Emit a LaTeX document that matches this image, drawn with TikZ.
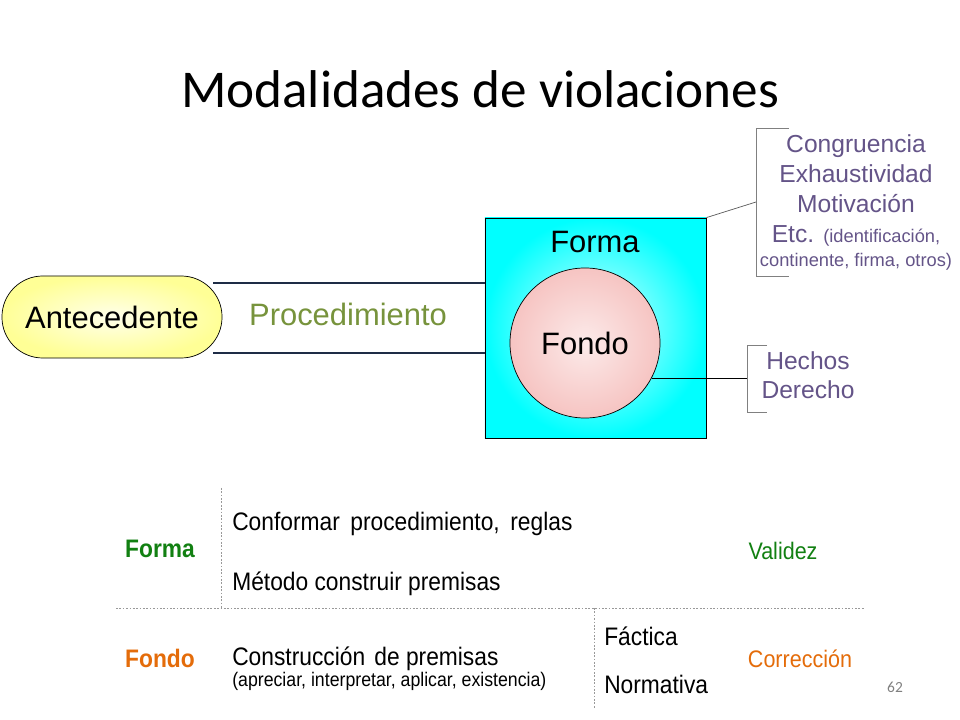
\documentclass[tikz,border=0pt]{standalone}
\usepackage{fontspec}
\setmainfont{Liberation Sans}
\newfontfamily\titlefont{Carlito}
\newfontfamily\narrowfont[FakeStretch=0.9]{Liberation Sans}
\usetikzlibrary{positioning}
\definecolor{procgreen}{RGB}{119,147,60}
\definecolor{sidetext}{RGB}{100,84,136}
\definecolor{formagreen}{RGB}{18,128,18}
\definecolor{fondoorange}{RGB}{228,108,10}
\definecolor{navyline}{RGB}{30,44,70}
\definecolor{pillyellow}{RGB}{255,255,150}
\definecolor{fondopink}{RGB}{246,196,194}

\begin{document}
\begin{tikzpicture}
    [x=0.025cm,y=-0.025cm,
      big/.style={font=\fontsize{22}{26}\selectfont},
      side/.style={font=\fontsize{17.5}{20}\selectfont,text=sidetext,anchor=base,inner sep=0pt},
      small/.style={font=\fontsize{13}{15}\selectfont},
      cell/.style={font=\narrowfont\fontsize{18}{21}\selectfont,anchor=base west,inner sep=0pt},
      tag/.style={font=\narrowfont\bfseries\fontsize{18}{21}\selectfont,anchor=base,inner sep=0pt},
      bracket/.style={draw=gray,line width=0.7pt},
      rule/.style={draw=gray!80,line width=0.6pt,dash pattern=on 1.2pt off 1.2pt}]

    \useasboundingbox (0,0) rectangle (960,720);

    \node[font=\titlefont\fontsize{37.8}{42}\selectfont,anchor=base] (title) at (480,108) {Modalidades de violaciones};

    % antecedente y procedimiento
    \node[big,draw,line width=0.5pt,rounded corners=1.02cm,minimum width=5.5cm,minimum height=2.05cm,
      shading=radial,inner color=yellow!8,outer color=pillyellow] (ante) at (112,317) {Antecedente};
    \node[big,text=procgreen,anchor=base] (proc) at (348,326) {Procedimiento};

    \node[draw,line width=0.5pt,minimum width=5.525cm,minimum height=5.5cm,
      shading=radial,inner color=cyan!15,outer color=cyan] (box) at (595.5,328) {};
    \node[big,anchor=base] (forma) at (595,253) {Forma};
    \node[big,circle,draw,line width=0.5pt,minimum size=3.75cm,inner sep=0pt,
      shading=radial,inner color=fondopink!35,outer color=fondopink] (fondo) at (585,343) {Fondo};

    \coordinate (p1) at (213,283);
    \coordinate (p2) at (213,353);
    \draw[navyline,line width=1pt] (p1) -- (p1 -| box.west);
    \draw[navyline,line width=1pt] (p2) -- (p2 -| box.west);

    % forma: requisitos
    \coordinate (b1) at (756,202);
    \draw[bracket] (789,128) -- (756,128) -- (756,276) -- (789,276);
    \draw[gray!70!black,line width=0.5pt] (box.north east) -- (b1);
    \node[side] (cong) at (856,153) {Congruencia};
    \node[side] (exha) at (856,183) {Exhaustividad};
    \node[side] (moti) at (856,213) {Motivación};
    \node[side] (etc) at (856,243) {Etc. {\fontsize{13}{15}\selectfont(identificación,}};
    \node[side,small] (cont) at (856,267) {continente, firma, otros)};

    % fondo: hechos y derecho
    \coordinate (b2) at (747,378);
    \draw[bracket] (767,345) -- (747,345) -- (747,412) -- (767,412);
    \draw[black,line width=0.5pt] (fondo.-28) -- (fondo.-28 -| b2);
    \node[side] (hech) at (808,370) {Hechos};
    \node[side] (dere) at (808,399) {Derecho};

    % tabla
    \coordinate (v1) at (221,488);
    \coordinate (h1) at (116,608);
    \coordinate (h2) at (865,608);
    \coordinate (v2) at (594,708);
    \draw[rule] (v1) -- (v1 |- h1);
    \draw[rule] (h1) -- (h2);
    \draw[rule] (v2 |- h1) -- (v2);

    \node[tag,text=formagreen] (tforma) at (160,558) {Forma};
    \node[tag,text=fondoorange] (tfondo) at (160,667) {Fondo};
    \node[cell] (conf) at (232,530) {Conformar\hspace{3pt} procedimiento,\hspace{3pt} reglas};
    \node[cell] (meto) at (232,590) {Método construir premisas};
    \node[cell] (cons) at (232,665) {Construcción\hspace{2pt} de premisas};
    \node[cell,font=\narrowfont\fontsize{14}{17}\selectfont] (apre) at (232,686) {(apreciar, interpretar, aplicar, existencia)};
    \node[cell] (fact) at (604,645) {Fáctica};
    \node[cell] (norm) at (604,693) {Normativa};
    \node[cell,anchor=base,font=\narrowfont\fontsize{17}{20}\selectfont,text=formagreen] (vali) at (783,559) {Validez};
    \node[cell,anchor=base,font=\narrowfont\fontsize{17}{20}\selectfont,text=fondoorange] (corr) at (800,667) {Corrección};

    \node[font=\titlefont\fontsize{11}{13}\selectfont,text=gray,anchor=base] (page) at (895,692) {62};

\end{tikzpicture}
\end{document}
